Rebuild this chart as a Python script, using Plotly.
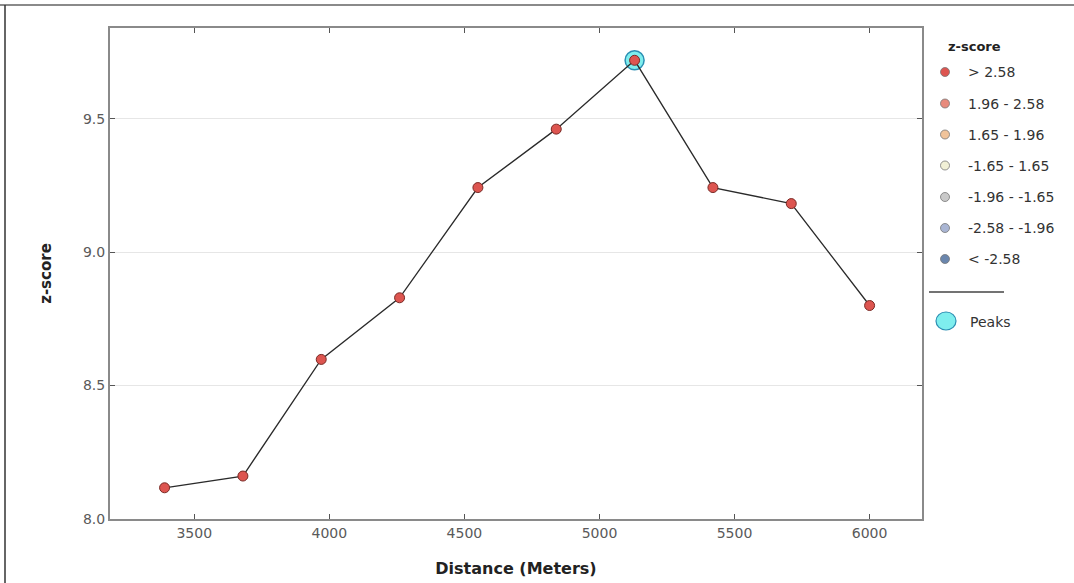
import plotly.graph_objects as go

# ---------------- data ----------------
distance_m = [3390, 3680, 3970, 4260, 4550, 4840, 5130, 5420, 5710, 6000]
z_score = [8.117, 8.161, 8.598, 8.829, 9.242, 9.461, 9.719, 9.242, 9.182, 8.800]
peak_distance = [5130]
peak_z = [9.719]

legend_labels = ["> 2.58", "1.96 - 2.58", "1.65 - 1.96", "-1.65 - 1.65",
                 "-1.96 - -1.65", "-2.58 - -1.96", "< -2.58"]
legend_colors = ["#dd5550", "#e88a7c", "#f0c39a", "#f1f0d6",
                 "#c9c9c9", "#a9b5d3", "#6a86ad"]

# ---------------- layout constants ----------------
W, H = 1074, 583
ML, MR, MT, MB = 110, 152, 28, 64
PW, PH = W - ML - MR, H - MT - MB


def px_x(p):
    return (p - ML) / PW


def px_y(p):
    return 1 - (p - MT) / PH


fig = go.Figure()

fig.add_trace(go.Scatter(
    x=peak_distance, y=peak_z, mode="markers",
    marker=dict(size=19, color="#7eeeee", line=dict(color="#2b8fb3", width=1.5)),
    showlegend=False, hoverinfo="skip"))

fig.add_trace(go.Scatter(
    x=distance_m, y=z_score, mode="lines+markers",
    line=dict(color="#2a2a2a", width=1.3),
    marker=dict(size=10, color=legend_colors[0], line=dict(color="#7a2a25", width=1)),
    showlegend=False))

axis_common = dict(
    showline=True, linecolor="#8a8a8a", linewidth=2, mirror="ticks",
    ticks="inside", ticklen=5, tickcolor="#555555", tickwidth=1,
    tickfont=dict(family="DejaVu Sans", size=14, color="#5a5a5a"),
    zeroline=False, automargin=False,
)

fig.update_xaxes(
    range=[3188, 6194], tick0=3500, dtick=500, showgrid=False,
    title=dict(text="<b>Distance (Meters)</b>", standoff=23,
               font=dict(family="DejaVu Sans", size=16, color="#222222")),
    **axis_common)
fig.update_yaxes(
    range=[8.0, 9.84], tick0=8.0, dtick=0.5, tickformat=".1f",
    showgrid=True, gridcolor="#e6e6e6", gridwidth=1,
    title=dict(text="<b>z-score</b>", standoff=28,
               font=dict(family="DejaVu Sans", size=15, color="#222222")),
    **axis_common)

shapes = []
annotations = []

# outer frame lines
shapes.append(dict(type="line", xref="paper", yref="paper",
                   x0=px_x(0), x1=px_x(W), y0=px_y(5), y1=px_y(5),
                   line=dict(color="#8a8a8a", width=2)))
shapes.append(dict(type="line", xref="paper", yref="paper",
                   x0=px_x(5), x1=px_x(5), y0=px_y(5), y1=px_y(H),
                   line=dict(color="#333333", width=1.5)))

# manual legend
annotations.append(dict(xref="paper", yref="paper", x=px_x(974), y=px_y(46),
                        text="<b>z-score</b>", showarrow=False,
                        font=dict(family="DejaVu Sans", size=13, color="#222222"),
                        xanchor="center", yanchor="middle"))
row_y = [72, 103.5, 134.5, 165.5, 197, 228, 259]
for lab, col, yy in zip(legend_labels, legend_colors, row_y):
    shapes.append(dict(type="circle", xref="paper", yref="paper",
                       xsizemode="pixel", ysizemode="pixel",
                       xanchor=px_x(945), yanchor=px_y(yy),
                       x0=-4.5, x1=4.5, y0=-4.5, y1=4.5,
                       fillcolor=col, line=dict(color="#777777", width=0.8)))
    annotations.append(dict(xref="paper", yref="paper", x=px_x(966), y=px_y(yy),
                            text=lab, showarrow=False,
                            font=dict(family="DejaVu Sans", size=14, color="#333333"),
                            xanchor="left", yanchor="middle"))

shapes.append(dict(type="line", xref="paper", yref="paper",
                   x0=px_x(929), x1=px_x(1004), y0=px_y(292), y1=px_y(292),
                   line=dict(color="#444444", width=1.5)))
shapes.append(dict(type="circle", xref="paper", yref="paper",
                   xsizemode="pixel", ysizemode="pixel",
                   xanchor=px_x(946), yanchor=px_y(321),
                   x0=-10, x1=10, y0=-9, y1=9,
                   fillcolor="#7eeeee", line=dict(color="#2b8fb3", width=1.2)))
annotations.append(dict(xref="paper", yref="paper", x=px_x(968), y=px_y(322),
                        text="Peaks", showarrow=False,
                        font=dict(family="DejaVu Sans", size=14, color="#333333"),
                        xanchor="left", yanchor="middle"))

fig.update_layout(
    width=W, height=H,
    margin=dict(l=ML, r=MR, t=MT, b=MB, pad=0, autoexpand=False),
    paper_bgcolor="white", plot_bgcolor="white",
    showlegend=False,
    shapes=shapes, annotations=annotations,
    font=dict(family="DejaVu Sans"),
)

fig.write_html("out.html",
               config={"displayModeBar": False},
               post_script="document.body.style.margin='0px';"
                           "document.body.style.overflow='hidden';")
